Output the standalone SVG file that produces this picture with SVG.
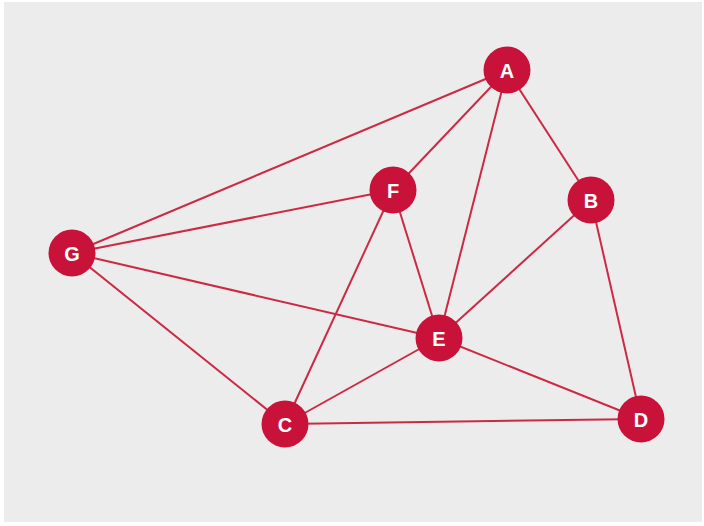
<svg xmlns="http://www.w3.org/2000/svg" width="704" height="526" viewBox="0 0 704 526">
<style>
.e{stroke:#cc2a44;stroke-width:2;fill:none}
.n circle{fill:#c8123a}
.n text{fill:#fff;font-family:"Liberation Sans",Arial,sans-serif;font-weight:bold;font-size:20px;text-anchor:middle;dominant-baseline:central}
</style>
<rect width="704" height="526" fill="#fff"/>
<rect x="4" y="2" width="698" height="520" fill="#ececec"/>
<g id="edges">
<line class="e" x1="507" y1="70" x2="72" y2="253"/>
<line class="e" x1="507" y1="70" x2="393" y2="190"/>
<line class="e" x1="507" y1="70" x2="439" y2="338"/>
<line class="e" x1="507" y1="70" x2="591" y2="200"/>
<line class="e" x1="591" y1="200" x2="439" y2="338"/>
<line class="e" x1="591" y1="200" x2="641" y2="419"/>
<line class="e" x1="393" y1="190" x2="72" y2="253"/>
<line class="e" x1="393" y1="190" x2="285" y2="424"/>
<line class="e" x1="393" y1="190" x2="439" y2="338"/>
<line class="e" x1="72" y1="253" x2="439" y2="338"/>
<line class="e" x1="72" y1="253" x2="285" y2="424"/>
<line class="e" x1="439" y1="338" x2="285" y2="424"/>
<line class="e" x1="439" y1="338" x2="641" y2="419"/>
<line class="e" x1="285" y1="424" x2="641" y2="419"/>
</g>
<g id="A" class="n"><circle cx="507" cy="70" r="23.5"/><text x="507" y="71">A</text></g>
<g id="B" class="n"><circle cx="591" cy="200" r="23.5"/><text x="591" y="201">B</text></g>
<g id="F" class="n"><circle cx="393" cy="190" r="23.5"/><text x="393" y="191">F</text></g>
<g id="G" class="n"><circle cx="72" cy="253" r="23.5"/><text x="72" y="254">G</text></g>
<g id="E" class="n"><circle cx="439" cy="338" r="23.5"/><text x="439" y="339">E</text></g>
<g id="C" class="n"><circle cx="285" cy="424" r="23.5"/><text x="285" y="425">C</text></g>
<g id="D" class="n"><circle cx="641" cy="419" r="23.5"/><text x="641" y="420">D</text></g>
</svg>
